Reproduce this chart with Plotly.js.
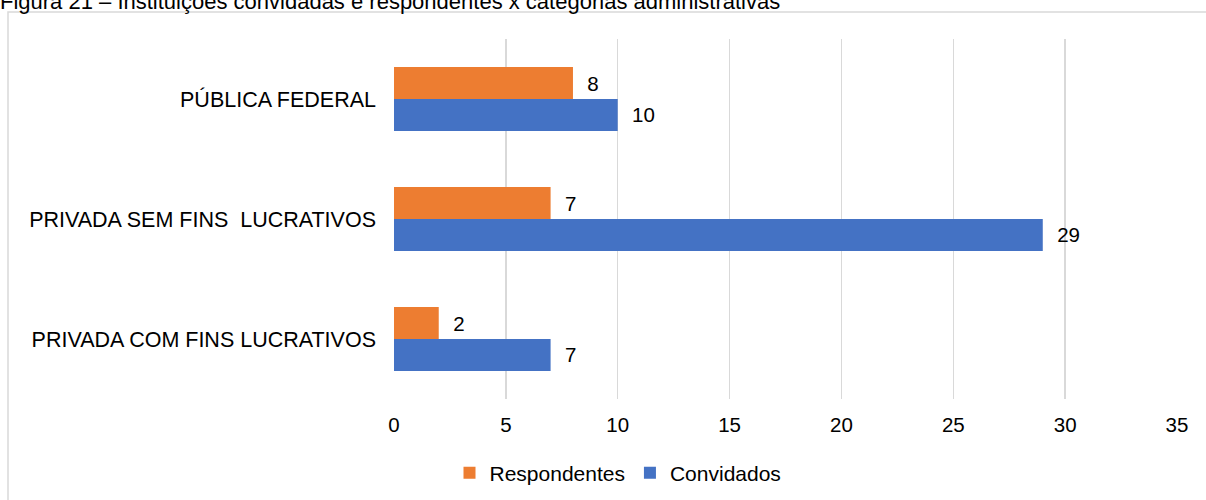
<!DOCTYPE html>
<html>
<head>
<meta charset="utf-8">
<script src="https://cdn.plot.ly/plotly-3.0.1.min.js"></script>
<style>html,body{margin:0;padding:0;background:#fff;}#chart{width:1206px;height:500px;}</style>
</head>
<body>
<div id="chart"></div>
<script>
// Data
var categories = ["PRIVADA COM FINS LUCRATIVOS", "PRIVADA SEM FINS\u00a0 LUCRATIVOS", "PÚBLICA FEDERAL"];
var convidados = [7, 29, 10];
var respondentes = [2, 7, 8];
var xTickVals = [0, 5, 10, 15, 20, 25, 30, 35];
var titleText = "Figura 21 – Instituições convidadas e respondentes x categorias administrativas";

var W = 1206, H = 500;
var L = 394, R = 1177, T = 39, B = 399;
function px2x(p){ return (p - L) / (R - L); }
function px2y(p){ return (B - p) / (B - T); }

var font = "Liberation Sans, Arial, sans-serif";

var traces = [
  {
    type: "bar", orientation: "h", name: "Convidados",
    y: categories, x: convidados,
    marker: {color: "#4472C4"},
    text: convidados.map(String),
    texttemplate: "\u00a0\u00a0%{x}",
    textposition: "outside", constraintext: "none", cliponaxis: false,
    textfont: {family: font, size: 20.5, color: "#000"},
    hoverinfo: "x+name"
  },
  {
    type: "bar", orientation: "h", name: "Respondentes",
    y: categories, x: respondentes,
    marker: {color: "#ED7D31"},
    text: respondentes.map(String),
    texttemplate: "\u00a0\u00a0%{x}",
    textposition: "outside", constraintext: "none", cliponaxis: false,
    textfont: {family: font, size: 20.5, color: "#000"},
    hoverinfo: "x+name"
  }
];

var layout = {
  width: W, height: H,
  margin: {l: L, r: W - R, t: T, b: H - B, pad: 0, autoexpand: false},
  paper_bgcolor: "#fff", plot_bgcolor: "#fff",
  font: {family: font, size: 20, color: "#000"},
  barmode: "group",
  bargap: 0.467, bargroupgap: 0,
  showlegend: true,
  title: {
    text: titleText,
    xref: "container", yref: "container",
    x: 0, xanchor: "left",
    y: 1 - 9 / H, yanchor: "bottom",
    font: {family: font, size: 22, color: "#000"}
  },
  xaxis: {
    range: [0, 35], tickvals: xTickVals, ticktext: xTickVals.map(String),
    showgrid: true, gridcolor: "#d9d9d9", gridwidth: 1.5,
    zeroline: false, showline: false, ticks: "",
    ticklabelstandoff: 11,
    tickfont: {family: font, size: 20.5, color: "#000"},
    fixedrange: true, automargin: false
  },
  yaxis: {
    type: "category", categoryorder: "array", categoryarray: categories,
    range: [-0.5, 2.5],
    showgrid: false, zeroline: false, showline: false, ticks: "",
    ticklabelstandoff: 17,
    tickfont: {family: font, size: 21.5, color: "#000"},
    fixedrange: true, automargin: false
  },
  legend: {
    orientation: "h", traceorder: "reversed",
    xref: "paper", x: px2x(618), xanchor: "center",
    yref: "container", y: 1 - 473 / H, yanchor: "middle",
    font: {family: font, size: 21, color: "#000"},
    itemclick: false, itemdoubleclick: false
  },
  shapes: [
    {
      type: "rect", xref: "paper", yref: "paper", layer: "below",
      x0: px2x(8), x1: px2x(1250), y0: px2y(12), y1: px2y(560),
      line: {color: "#d9d9d9", width: 1.5}, fillcolor: "rgba(0,0,0,0)"
    }
  ]
};

Plotly.newPlot("chart", traces, layout, {displayModeBar: false, staticPlot: true});
</script>
</body>
</html>
